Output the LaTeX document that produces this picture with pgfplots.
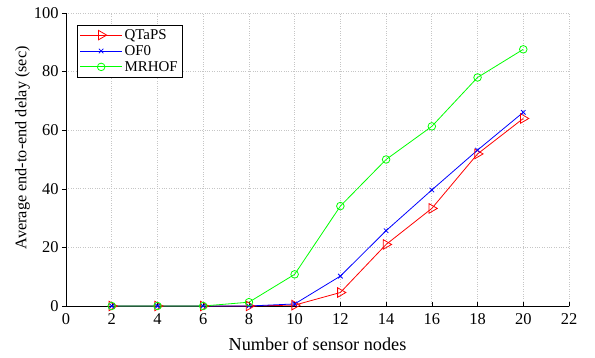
\documentclass[border=0pt]{standalone}
\usepackage{fontspec}
\setmainfont{Liberation Serif}
\usepackage{pgfplots}
\pgfplotsset{compat=1.18}
\begin{document}
\begin{tikzpicture}
\begin{axis}[
  name=main,
  scale only axis,
  width=503bp, height=293bp,
  xmin=0, xmax=22, ymin=0, ymax=100,
  xtick={0,2,...,22}, ytick={0,20,...,100},
  axis x line*=bottom, axis y line*=left,
  x tick style={black, thin}, y tick style={black, thin},
  xtick align=inside, ytick align=outside,
  major tick length=4bp,
  grid=major,
  grid style={gray!45, dotted, line width=0.7pt},
  every axis plot/.append style={line width=0.8pt},
  tick label style={font=\fontsize{16.5}{16.5}\selectfont},
  xticklabel style={yshift=-4bp},
  /pgf/number format/assume math mode=true,
  xlabel={Number of sensor nodes},
  ylabel={Average end-to-end delay (sec)},
  xlabel style={font=\fontsize{18.3}{18.3}\selectfont, yshift=-6bp},
  ylabel style={font=\fontsize{16.3}{16.3}\selectfont, at={(ticklabel cs:0.54)}, yshift=-3bp},
  legend style={at={(0.022,0.96)}, anchor=north west, draw=black, fill=white,
    font=\fontsize{15}{17}\selectfont, row sep=0.5bp, inner sep=2.5bp},
  legend cell align=left,
  legend image code/.code={
    \draw[#1] (0bp,0bp) -- (42bp,0bp);
    \draw[#1, mark repeat=1] plot coordinates {(21bp,0bp)};
  },
  clip=false,
]
\addplot[red, mark=triangle, mark size=5.5bp, mark options={rotate=-90, solid, fill=none}] coordinates {
 (2,0) (4,0) (6,0) (8,0) (10,0.3) (12,4.6) (14,21) (16,33.3) (18,51.9) (20,64)};
\addlegendentry{QTaPS}
\addplot[blue, mark=x, mark size=3.2bp] coordinates {
 (2,0) (4,0) (6,0) (8,0) (10,0.7) (12,10.2) (14,25.7) (16,39.6) (18,53.2) (20,66.1)};
\addlegendentry{OF0}
\addplot[green, mark=o, mark size=3.8bp] coordinates {
 (2,0) (4,0) (6,0) (8,1.3) (10,10.8) (12,34.1) (14,50) (16,61.3) (18,78) (20,87.6)};
\addlegendentry{MRHOF}
\end{axis}
\pgfresetboundingbox
\useasboundingbox ([xshift=-66bp,yshift=-52bp]main.south west) rectangle ([xshift=26bp,yshift=13bp]main.north east);
\end{tikzpicture}
\end{document}
